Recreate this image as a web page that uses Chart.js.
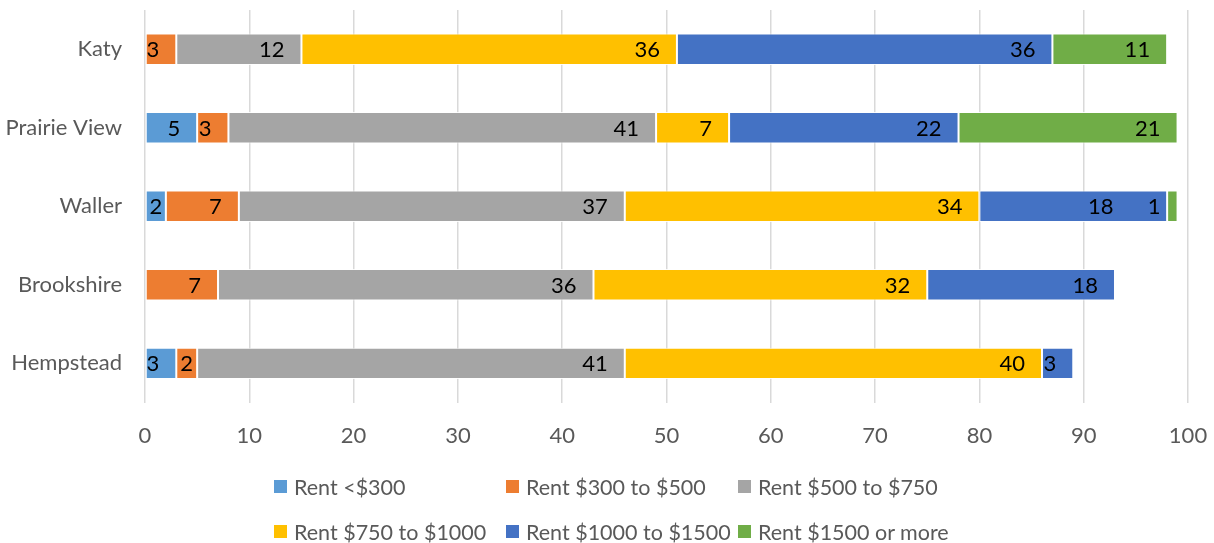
<!DOCTYPE html>
<html>
<head>
<meta charset="utf-8">
<script src="https://cdn.jsdelivr.net/npm/chart.js@4"></script>
<style>
  html, body { margin: 0; padding: 0; background: #fff; }
  #wrap { position: relative; width: 1214px; height: 543px; overflow: hidden; }
  #legend { position: absolute; left: 274px; top: 464px; font-family: Lato, sans-serif; font-size: 21.5px; color: #595959; }
  #legend .row { display: flex; height: 45px; align-items: center; }
  #legend .item { width: 232px; display: flex; align-items: center; white-space: nowrap; }
  #legend .box { width: 13px; height: 13px; margin-right: 7px; flex: none; }
</style>
</head>
<body>
<div id="wrap">
  <canvas id="rentChart" width="1214" height="543"></canvas>
  <div id="legend"></div>
</div>
<script>
// Rent ranges by town (percent of renters)
const towns = ['Katy', 'Prairie View', 'Waller', 'Brookshire', 'Hempstead'];
const seriesNames = ['Rent <$300', 'Rent $300 to $500', 'Rent $500 to $750',
  'Rent $750 to $1000', 'Rent $1000 to $1500', 'Rent $1500 or more'];
const seriesColors = ['#5B9BD5', '#ED7D31', '#A5A5A5', '#FFC000', '#4472C4', '#70AD47'];
const rentUnder300   = [0, 5, 2, 0, 3];
const rent300to500   = [3, 3, 7, 7, 2];
const rent500to750   = [12, 41, 37, 36, 41];
const rent750to1000  = [36, 7, 34, 32, 40];
const rent1000to1500 = [36, 22, 18, 18, 3];
const rent1500plus   = [11, 21, 1, 0, 0];
const xTicks = [0, 10, 20, 30, 40, 50, 60, 70, 80, 90, 100];

const seriesValues = [rentUnder300, rent300to500, rent500to750, rent750to1000, rent1000to1500, rent1500plus];
const FONT = 'Lato, sans-serif';

// value labels sit at the inner right end of each segment;
// narrow segments get their label centred, and a label that would
// run into its right-hand neighbour is pushed left
const endLabels = {
  id: 'endLabels',
  afterDatasetsDraw(chart) {
    const ctx = chart.ctx;
    ctx.save();
    ctx.font = '22px ' + FONT;
    ctx.fillStyle = '#000';
    ctx.textBaseline = 'middle';
    ctx.textAlign = 'left';
    const nSeries = chart.data.datasets.length;
    chart.data.labels.forEach((_, j) => {
      let nextLeft = Infinity;
      for (let i = nSeries - 1; i >= 0; i--) {
        const v = chart.data.datasets[i].data[j];
        if (!v) continue;
        const bar = chart.getDatasetMeta(i).data[j];
        const txt = String(v);
        const w = ctx.measureText(txt).width;
        const end = bar.x, start = bar.base;
        let left = end - 17 - w;
        if (left < start && end - start >= w + 6) left = (start + end - w) / 2;
        if (left + w > nextLeft - 4) left -= w + 11;
        ctx.fillText(txt, left, bar.y + 1);
        nextLeft = left;
      }
    });
    ctx.restore();
  }
};

new Chart(document.getElementById('rentChart'), {
  type: 'bar',
  data: {
    labels: towns,
    datasets: seriesNames.map((name, i) => ({
      label: name,
      data: seriesValues[i],
      backgroundColor: seriesColors[i],
      borderColor: 'rgba(255,255,255,0.85)',
      borderWidth: c => (c.raw ? 1 : 0),
      borderSkipped: false,
      categoryPercentage: 1,
      barPercentage: 0.4
    }))
  },
  options: {
    indexAxis: 'y',
    responsive: false,
    animation: false,
    layout: { padding: { top: 10, right: 26, bottom: 74, left: 0 } },
    scales: {
      x: {
        stacked: true, min: 0, max: 100,
        afterBuildTicks: s => { s.ticks = xTicks.map(v => ({ value: v })); },
        afterFit: s => { s.paddingLeft = 0; s.paddingRight = 0; },
        grid: { color: '#D9D9D9', lineWidth: 1.5, drawTicks: false },
        border: { display: false },
        ticks: { padding: 20, color: '#595959', font: { family: FONT, size: 22 } }
      },
      y: {
        stacked: true,
        afterFit: s => { s.width = 145; s.paddingTop = 0; s.paddingBottom = 0; },
        grid: { display: false, drawTicks: false },
        border: { display: false },
        ticks: { padding: 23, color: '#595959', font: { family: FONT, size: 22 } }
      }
    },
    plugins: { legend: { display: false }, tooltip: { enabled: false } }
  },
  plugins: [endLabels]
});

// legend: two rows of three
const legend = document.getElementById('legend');
[[0, 1, 2], [3, 4, 5]].forEach(idx => {
  const row = document.createElement('div');
  row.className = 'row';
  idx.forEach(i => {
    const item = document.createElement('div');
    item.className = 'item';
    item.innerHTML = `<span class="box" style="background:${seriesColors[i]}"></span><span>${seriesNames[i].replace('<', '&lt;')}</span>`;
    row.appendChild(item);
  });
  legend.appendChild(row);
});
</script>
</body>
</html>
